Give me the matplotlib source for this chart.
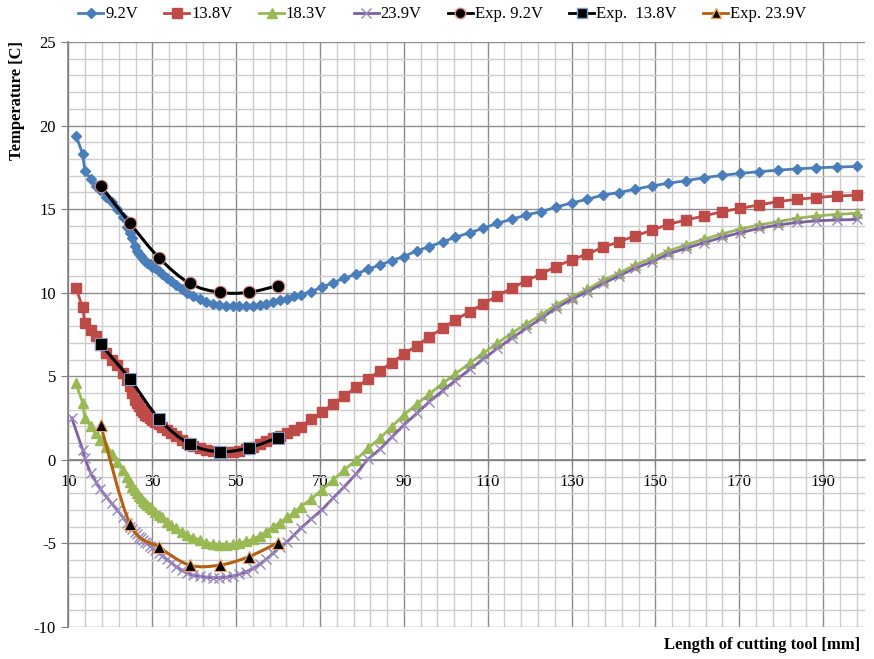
import matplotlib
matplotlib.use("Agg")
import matplotlib.pyplot as plt
from matplotlib.lines import Line2D
from matplotlib.path import Path
from matplotlib.patches import PathPatch
from matplotlib.ticker import MultipleLocator

# simulated curves share one x grid (mm)
x_sim = [11.8, 13.4, 13.9, 15.3, 16.5, 17.6, 19.0, 20.3, 21.6, 22.9, 24.0, 24.6,
         25.2, 25.8, 26.3, 26.8, 27.3, 27.8, 28.3, 28.8, 29.4, 30.0, 30.7, 31.5,
         32.4, 33.4, 34.5, 35.7, 37.0, 38.4, 39.8, 41.3, 42.8, 44.4, 46.0, 47.6,
         49.2, 50.8, 52.4, 54.0, 55.6, 57.2, 58.8, 60.5, 62.2, 63.8, 65.4,
         67.8, 70.4, 73.1, 75.8, 78.6, 81.4, 84.3, 87.1, 90.0, 93.1, 96.1, 99.3,
         102.2, 105.7, 108.9, 112.3, 115.7, 119.2, 122.8, 126.2, 130.0, 133.8,
         137.6, 141.3, 145.1, 149.3, 153.1, 157.3, 161.6, 165.9, 170.3, 174.7,
         179.2, 183.8, 188.4, 193.3, 198.1]
x_sim_239 = [10.8] + x_sim[1:]

t_92 = [19.4, 18.3, 17.3, 16.8, 16.4, 16.15, 15.75, 15.4, 15.0, 14.5, 13.95, 13.6,
        13.3, 12.8, 12.5, 12.3, 12.2, 12.0, 11.9, 11.8, 11.7, 11.55, 11.45, 11.3,
        11.1, 10.9, 10.7, 10.45, 10.25, 10.0, 9.8, 9.6, 9.45, 9.35, 9.25, 9.2,
        9.18, 9.18, 9.2, 9.22, 9.28, 9.35, 9.45, 9.55, 9.65, 9.78, 9.88,
        10.06, 10.32, 10.60, 10.86, 11.12, 11.40, 11.66, 11.92, 12.16, 12.51,
        12.75, 13.05, 13.31, 13.59, 13.85, 14.15, 14.39, 14.65, 14.85, 15.11,
        15.37, 15.59, 15.85, 15.99, 16.19, 16.39, 16.55, 16.70, 16.88, 17.02,
        17.14, 17.24, 17.33, 17.41, 17.47, 17.52, 17.55]
t_138 = [10.26, 9.13, 8.17, 7.77, 7.4, 6.9, 6.4, 6.0, 5.7, 5.2, 4.75, 4.4,
         4.0, 3.6, 3.4, 3.2, 3.0, 2.85, 2.7, 2.6, 2.5, 2.4, 2.28, 2.15,
         1.98, 1.8, 1.6, 1.4, 1.2, 0.98, 0.85, 0.7, 0.6, 0.52, 0.48, 0.47,
         0.48, 0.55, 0.65, 0.78, 0.95, 1.1, 1.28, 1.45, 1.62, 1.8, 1.98,
         2.42, 2.84, 3.34, 3.82, 4.34, 4.82, 5.33, 5.81, 6.33, 6.83, 7.37, 7.87,
         8.37, 8.86, 9.32, 9.82, 10.26, 10.72, 11.12, 11.56, 11.96, 12.32,
         12.72, 13.05, 13.39, 13.75, 14.09, 14.35, 14.59, 14.85, 15.05, 15.25,
         15.45, 15.59, 15.69, 15.79, 15.83]
t_183 = [4.58, 3.4, 2.5, 2.0, 1.6, 1.2, 0.75, 0.35, -0.1, -0.6, -1.0, -1.3,
         -1.6, -1.8, -2.0, -2.15, -2.3, -2.45, -2.6, -2.7, -2.8, -2.95, -3.1, -3.3,
         -3.45, -3.7, -3.9, -4.1, -4.3, -4.5, -4.65, -4.8, -4.95, -5.03, -5.08, -5.08,
         -5.05, -4.98, -4.88, -4.75, -4.55, -4.3, -4.0, -3.75, -3.45, -3.15, -2.8,
         -2.37, -1.81, -1.21, -0.61, -0.01, 0.69, 1.29, 1.98, 2.68, 3.34, 3.94,
         4.58, 5.13, 5.77, 6.37, 6.97, 7.57, 8.13, 8.67, 9.26, 9.76, 10.20,
         10.76, 11.16, 11.66, 12.06, 12.50, 12.86, 13.20, 13.51, 13.81, 14.05,
         14.25, 14.45, 14.59, 14.69, 14.75]
t_239 = [2.5, 0.6, 0.1, -0.8, -1.3, -1.75, -2.2, -2.6, -3.0, -3.4, -3.8, -4.0,
         -4.15, -4.3, -4.45, -4.6, -4.7, -4.8, -4.9, -5.0, -5.15, -5.25, -5.4, -5.55,
         -5.75, -5.95, -6.15, -6.4, -6.6, -6.8, -6.9, -6.97, -7.02, -7.05, -7.05, -7.02,
         -6.95, -6.85, -6.7, -6.5, -6.25, -5.95, -5.6, -5.2, -4.9, -4.5, -4.1,
         -3.56, -3.0, -2.30, -1.61, -0.85, 0.03, 0.63, 1.35, 2.08, 2.78, 3.48,
         4.14, 4.73, 5.41, 6.01, 6.67, 7.27, 7.87, 8.47, 9.07, 9.6, 10.06,
         10.56, 11.0, 11.46, 11.86, 12.32, 12.66, 12.99, 13.31, 13.59, 13.85,
         14.05, 14.2, 14.3, 14.35, 14.38]

# measurements
x_exp = [17.7, 24.7, 31.7, 38.9, 46.1, 53.0, 59.9]
exp_92 = [16.40, 14.15, 12.06, 10.56, 10.02, 10.02, 10.42]
exp_138 = [6.91, 4.82, 2.42, 0.95, 0.48, 0.72, 1.32]
exp_239 = [2.08, -3.84, -5.24, -6.30, -6.30, -5.80, -4.96]

plt.rcParams['font.family'] = ['Liberation Serif', 'DejaVu Serif']
plt.rcParams['axes.unicode_minus'] = False


def smooth_path(xs, ys):
    # Excel-style smoothed line: Catmull-Rom segments as cubic Beziers
    pts = list(zip(xs, ys))
    verts = [pts[0]]
    codes = [Path.MOVETO]
    n = len(pts)
    for i in range(n - 1):
        p0 = pts[max(i - 1, 0)]
        p1 = pts[i]
        p2 = pts[i + 1]
        p3 = pts[min(i + 2, n - 1)]
        c1 = (p1[0] + (p2[0] - p0[0]) / 6, p1[1] + (p2[1] - p0[1]) / 6)
        c2 = (p2[0] - (p3[0] - p1[0]) / 6, p2[1] - (p3[1] - p1[1]) / 6)
        verts += [c1, c2, p2]
        codes += [Path.CURVE4] * 3
    return Path(verts, codes)


fig = plt.figure(figsize=(8.74, 6.59), dpi=100)
ax = fig.add_axes([0.0783, 0.0486, 0.9114, 0.8877])

blue, red, green, purple = '#4A7EBB', '#BE4B48', '#98B954', '#7D60A0'
brown = '#B5600F'

ax.plot(x_sim, t_92, '-', color=blue, lw=2, marker='D', ms=5.5, zorder=3)
ax.plot(x_sim, t_138, '-', color=red, lw=2, marker='s', ms=7, zorder=3)
ax.plot(x_sim, t_183, '-', color=green, lw=2, marker='^', ms=7, zorder=3)
ax.plot(x_sim_239, t_239, '-', color=purple, lw=2, marker='x', ms=6.5,
        mec='#9A86BE', mew=1, zorder=3)

exp_sets = [(exp_92, 'black', 'o', 9, '#D9867F'),
            (exp_138, 'black', 's', 9, '#7F9CC4'),
            (exp_239, brown, '^', 8.5, '#F0A050')]
for vals, lc, mk, ms, ec in exp_sets:
    ax.add_patch(PathPatch(smooth_path(x_exp, vals), fill=False, ec=lc, lw=2.2,
                           zorder=4))
    ax.plot(x_exp, vals, ls='none', marker=mk, ms=ms, mfc='black', mec=ec,
            mew=0.8, zorder=5)

ax.set_xlim(10, 200)
ax.set_ylim(-10, 25)
ax.xaxis.set_major_locator(MultipleLocator(20, offset=10))
ax.xaxis.set_minor_locator(MultipleLocator(4, offset=2))
ax.yaxis.set_major_locator(MultipleLocator(5))
ax.yaxis.set_minor_locator(MultipleLocator(1))
ax.grid(which='minor', color='#CDCDCD', lw=1.0, zorder=0)
ax.grid(which='major', color='#8E8E8E', lw=1.0, zorder=0)
ax.set_axisbelow(True)

for s in ['top', 'right']:
    ax.spines[s].set_visible(False)
ax.spines['bottom'].set_position(('data', 0))
ax.spines['bottom'].set_color('#7F7F7F')
ax.spines['left'].set_color('#7F7F7F')
ax.spines['bottom'].set_linewidth(1.2)
ax.spines['left'].set_linewidth(1.2)
ax.tick_params(which='minor', length=0)
ax.tick_params(axis='x', which='major', length=4, pad=6, color='#7F7F7F',
               labelsize=12)
ax.tick_params(axis='y', which='major', length=5, pad=4, color='#7F7F7F',
               labelsize=12)

fig.text(0.019, 0.848, 'Temperature [C]', rotation=90, ha='center',
         va='center', fontsize=12, fontweight='bold')
fig.text(0.984, 0.021, 'Length of cutting tool [mm]', ha='right',
         va='center', fontsize=12, fontweight='bold')

handles = [
    Line2D([], [], color=blue, lw=2, marker='D', ms=5.5),
    Line2D([], [], color=red, lw=2, marker='s', ms=7),
    Line2D([], [], color=green, lw=2, marker='^', ms=7),
    Line2D([], [], color=purple, lw=2, marker='x', ms=6.5, mec='#9A86BE'),
    Line2D([], [], color='black', lw=2, marker='o', ms=7.5, mfc='black',
           mec='#D9867F'),
    Line2D([], [], color='black', lw=2, marker='s', ms=7.5, mfc='black',
           mec='#7F9CC4'),
    Line2D([], [], color=brown, lw=2, marker='^', ms=7.5, mfc='black',
           mec='#F0A050'),
]
labels = ['9.2V', '13.8V', '18.3V', '23.9V', 'Exp. 9.2V', 'Exp.  13.8V',
          'Exp. 23.9V']
fig.legend(handles, labels, loc='center', bbox_to_anchor=(0.506, 0.978),
           ncol=7, frameon=False, fontsize=12, handlelength=1.5,
           handletextpad=0.1, columnspacing=1.6)

fig.savefig('out.png', dpi=100)
